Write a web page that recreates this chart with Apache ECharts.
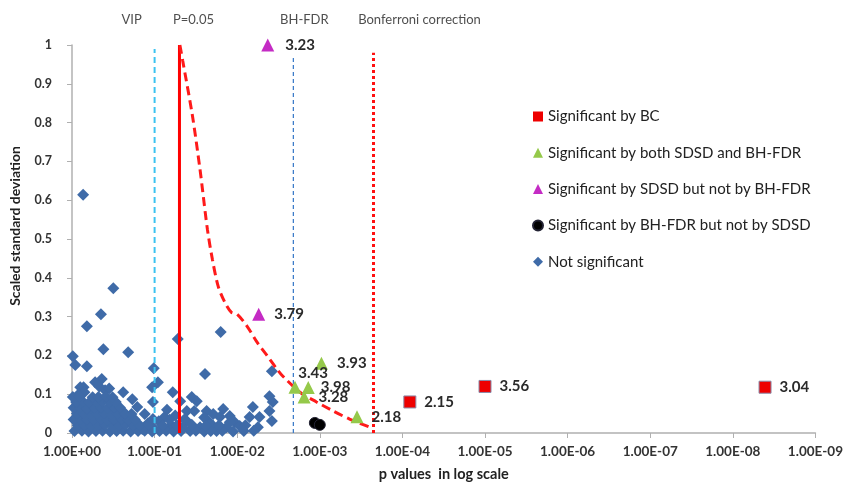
<!DOCTYPE html>
<html><head><meta charset="utf-8">
<script src="https://cdn.jsdelivr.net/npm/echarts/dist/echarts.min.js"></script>
<style>html,body{margin:0;padding:0;background:#fff}#c{width:846px;height:487px}</style>
</head><body><div id="c"></div>
<script>
// x = -log10(p), y = scaled standard deviation
const xTickLabels = ['1.00E+00','1.00E-01','1.00E-02','1.00E-03','1.00E-04','1.00E-05','1.00E-06','1.00E-07','1.00E-08','1.00E-09'];

const bcPoints = [[4.09,0.08],[5.0,0.12],[8.39,0.118]];
const bcLabels = ['2.15','3.56','3.04'];

const bothPoints = [[2.70,0.118],[2.86,0.117],[3.02,0.18],[2.81,0.093],[3.45,0.042]];
const bothLabels = ['3.43','3.98','3.93','3.28','2.18'];

const sdsdPoints = [[2.37,1.0],[2.26,0.306]];
const sdsdLabels = ['3.23','3.79'];

const bhPoints = [[2.94,0.026],[3.0,0.021]];

const notSigPoints = [
 [0.135,0.614],[0.5,0.373],[0.35,0.306],[0.18,0.275],[1.28,0.242],[1.8,0.26],
 [0.38,0.216],[0.68,0.208],[0.01,0.198],[0.04,0.175],[0.18,0.172],[0.99,0.167],
 [1.61,0.152],[2.42,0.159],[1.04,0.131],[0.97,0.118],[0.36,0.139],[0.28,0.131],
 [0.1,0.118],[0.14,0.118],[0.62,0.105],[1.22,0.105],[1.45,0.093],[1.51,0.082],
 [2.39,0.095],[2.43,0.08],[0.73,0.087],[0.98,0.08],[1.31,0.082],[0.79,0.067],
 [0.88,0.049],[1.12,0.041],
 [1.39,0.057],[1.48,0.057],[1.63,0.057],[1.83,0.062],[2.19,0.067],[2.39,0.057],
 [2.27,0.041],[2.42,0.031],[2.15,0.041],[1.91,0.044],[1.79,0.041],[1.71,0.049],
 [1.65,0.031],[1.97,0.028],[1.91,0.028],[1.87,0.015],[2.03,0.018],[1.39,0.031],
 [1.34,0.015],[1.43,0.005],[1.55,0.015],[1.71,0.018],[1.2,0.02],[1.15,0.06],
 [1.05,0.03],[1.0,0.01],[0.92,0.025],[0.85,0.01],[1.25,0.045],[2.1,0.02],
 [2.25,0.015],[1.6,0.04],[1.75,0.005],
 [0.08,0.1],[0.15,0.105],[0.4,0.11],[0.33,0.12],[0.45,0.115],[0.53,0.075],
 // dense mass near p = 1
 [0.03,0.005],[0.12,0.006],[0.2,0.004],[0.29,0.005],[0.37,0.006],[0.46,0.004],[0.54,0.005],
 [0.62,0.006],[0.71,0.004],[0.8,0.005],[0.88,0.006],[0.97,0.004],[1.06,0.005],[1.14,0.006],
 [1.23,0.004],[1.32,0.005],[1.5,0.006],[1.6,0.004],[1.68,0.005],[1.82,0.006],[1.95,0.004],
 [2.08,0.005],[2.2,0.006],
 [0.07,0.02],[0.15,0.021],[0.23,0.019],[0.32,0.02],[0.4,0.021],[0.49,0.019],[0.57,0.02],
 [0.65,0.021],[0.74,0.019],[0.82,0.02],[0.93,0.021],[1.1,0.019],[1.27,0.02],[1.45,0.021],
 [1.62,0.019],[1.78,0.02],
 [0.02,0.035],[0.1,0.036],[0.18,0.034],[0.26,0.035],[0.35,0.036],[0.43,0.034],[0.51,0.035],
 [0.6,0.036],[0.68,0.034],[0.76,0.035],[0.98,0.036],[1.18,0.034],[1.36,0.035],
 [0.06,0.05],[0.14,0.051],[0.22,0.049],[0.3,0.05],[0.39,0.051],[0.47,0.049],[0.55,0.05],
 [0.64,0.051],[0.72,0.049],
 [0.02,0.065],[0.1,0.066],[0.18,0.064],[0.27,0.065],[0.35,0.066],[0.43,0.064],[0.51,0.065],
 [0.58,0.066],
 [0.05,0.08],[0.13,0.081],[0.21,0.079],[0.3,0.08],[0.37,0.081],[0.45,0.079],[0.53,0.08],
 [0.01,0.093],[0.09,0.094],[0.25,0.092],[0.32,0.093],[0.41,0.094],[0.49,0.092]
];

const curvePoints = [[1.306,1.0],[1.34,0.96],[1.46,0.815],[1.55,0.679],[1.58,0.627],[1.64,0.524],
 [1.70,0.447],[1.77,0.378],[1.85,0.337],[1.93,0.311],[2.0,0.306],[2.12,0.275],[2.24,0.234],
 [2.36,0.2],[2.48,0.165],[2.55,0.147],[2.76,0.105],[2.96,0.08],[3.16,0.057],[3.36,0.036],[3.64,0.012]];

const thresholdNames = ['VIP','P=0.05','BH-FDR','Bonferroni correction'];
const thresholdX = [1.0, 1.301, 2.68, 3.65];
const thresholdTop = [0.99, 1.0, 0.97, 0.98];

const FONT = 'Lato, "Open Sans", sans-serif';
const chart = echarts.init(document.getElementById('c'), null, {renderer:'canvas'});

const lineStyles = [
  {color:'#3cc3f0', width:2, type:[6,4]},
  {color:'#ff0000', width:3, type:'solid'},
  {color:'#3d7cc9', width:1.3, type:[4,3]},
  {color:'#ff1010', width:3, type:'dotted'}
];
const threshLabelOffset = [[-23,0],[14,0],[11,0],[46,0]];

const ptLabel = (dist, extra) => Object.assign({show:true, position:'right', distance:dist,
  fontFamily:FONT, fontWeight:'bold', fontSize:15, color:'#2a2a2a'}, extra||{});

const bcData = bcPoints.map((p,i)=>({value:p, itemStyle:{borderColor:'#8a8aa8', borderWidth:1},
  label:ptLabel(8, {formatter:bcLabels[i]})}));
const bothOverrides = {'3.43':{position:'top', distance:0, offset:[18,0]}, '3.98':{distance:6}, '3.93':{distance:9}};
const bothData = bothPoints.map((p,i)=>({value:p, label:ptLabel(8, Object.assign({formatter:bothLabels[i]}, bothOverrides[bothLabels[i]]||{}))}));
const sdsdData = sdsdPoints.map((p,i)=>({value:p, label:ptLabel(i===0?11:9, {formatter:sdsdLabels[i]})}));

const series = [];
thresholdX.forEach((x,i)=>{
  series.push({type:'line', name:thresholdNames[i]+' line', data:[[x,0],[x,thresholdTop[i]]],
    symbol:'none', lineStyle:lineStyles[i], z:3, silent:true});
});
series.push({type:'scatter', name:'thresholdLabels', symbol:'circle', symbolSize:0, clip:false, silent:true,
  itemStyle:{color:'rgba(0,0,0,0)'},
  data: thresholdX.map((x,i)=>({value:[x,1.064], label:{show:true, position:'inside', formatter:thresholdNames[i],
    offset:threshLabelOffset[i], fontFamily:FONT, fontSize:13, color:'#222'}}))});
series.push({type:'line', name:'curve', data:curvePoints, symbol:'none', smooth:0.3,
  lineStyle:{color:'#ff1a1a', width:3, type:[9,5]}, z:3, silent:true});
series.push({type:'scatter', name:'Not significant', data:notSigPoints, symbol:'diamond', symbolSize:12,
  itemStyle:{color:'#3f6ba8', opacity:1}, z:2});
series.push({type:'scatter', name:'Significant by BC', data:bcData, symbol:'rect', symbolSize:12,
  itemStyle:{color:'#ee0000', opacity:1}, z:5});
series.push({type:'scatter', name:'Significant by both SDSD and BH-FDR', data:bothData, symbol:'triangle', symbolSize:13,
  itemStyle:{color:'#95c94a', opacity:1}, z:5});
series.push({type:'scatter', name:'Significant by SDSD but not by BH-FDR', data:sdsdData, symbol:'triangle', symbolSize:13,
  itemStyle:{color:'#c42bc4', opacity:1}, z:5});
series.push({type:'scatter', name:'Significant by BH-FDR but not by SDSD', data:bhPoints, symbol:'circle', symbolSize:11,
  itemStyle:{color:'#000000', borderColor:'#223', borderWidth:1, opacity:1}, z:5});

chart.setOption({
  animation:false,
  backgroundColor:'#fff',
  grid:{left:72, right:30, top:45, bottom:53},
  legend:{
    orient:'vertical', left:527, top:104, itemWidth:10, itemHeight:10, itemGap:21.3,
    textStyle:{fontFamily:FONT, fontSize:15, color:'#222'},
    data:['Significant by BC','Significant by both SDSD and BH-FDR','Significant by SDSD but not by BH-FDR',
      'Significant by BH-FDR but not by SDSD','Not significant']
  },
  xAxis:{type:'value', min:0, max:9, interval:1,
    name:'p values  in log scale', nameLocation:'middle', nameGap:34,
    nameTextStyle:{fontFamily:FONT, fontWeight:'bold', fontSize:14.5, color:'#222'},
    axisLine:{lineStyle:{color:'#b0b0b0', width:1.5}},
    axisTick:{show:true, length:5, lineStyle:{color:'#b0b0b0'}},
    splitLine:{show:false},
    axisLabel:{margin:12, formatter:v=>xTickLabels[v], fontFamily:FONT, fontWeight:'bold', fontSize:13.5, color:'#333'}
  },
  yAxis:{type:'value', min:0, max:1, interval:0.1,
    name:'Scaled standard deviation', nameLocation:'middle', nameGap:50,
    nameTextStyle:{fontFamily:FONT, fontWeight:'bold', fontSize:14, color:'#222', padding:[0,0,0,26]},
    axisLine:{show:true, lineStyle:{color:'#b0b0b0', width:1.5}},
    axisTick:{show:true, length:5, lineStyle:{color:'#b0b0b0'}},
    splitLine:{show:false},
    axisLabel:{margin:20, formatter:v=>(v===0||v===1)?String(v):v.toFixed(1), fontFamily:FONT, fontWeight:'bold', fontSize:12.5, color:'#333'}
  },
  series:series
});
</script></body></html>
